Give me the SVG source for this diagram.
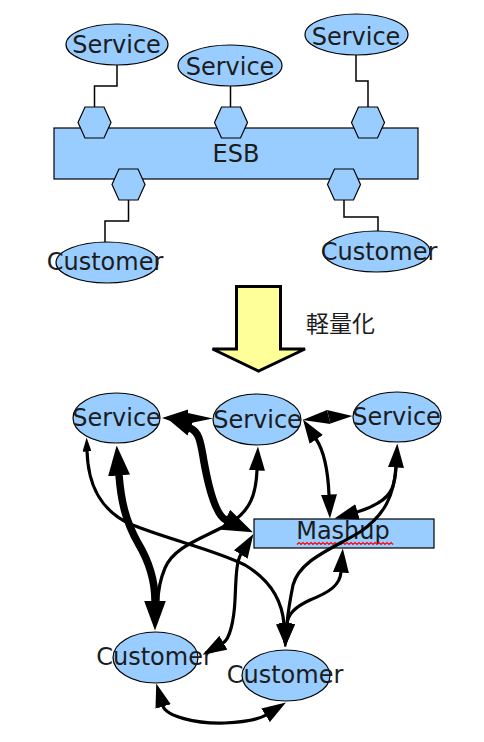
<svg xmlns="http://www.w3.org/2000/svg" width="484" height="742" viewBox="0 0 484 742">
<style>
.nd{fill:#99ccff;stroke:#000;stroke-width:1.2}
.t{font-family:"DejaVu Sans",sans-serif;font-size:24px;fill:#1c1c1c;text-anchor:middle}
.el{fill:none;stroke:#000;stroke-width:1.5}
.c{fill:none;stroke:#000;stroke-width:3.2}
.k{fill:none;stroke:#000;stroke-width:7.5}
.h{fill:#000}
</style>
<defs>
<marker id="hm" viewBox="0 0 24 16" markerWidth="24" markerHeight="16" refX="0.5" refY="8" orient="auto-start-reverse" markerUnits="userSpaceOnUse"><path d="M0,0 L24,8 L0,16 Z" fill="#000"/></marker>
<marker id="hb" viewBox="0 0 30 22" markerWidth="30" markerHeight="22" refX="0.5" refY="11" orient="auto-start-reverse" markerUnits="userSpaceOnUse"><path d="M0,0 L30,11 L0,22 Z" fill="#000"/></marker>
<marker id="hs" viewBox="0 0 14 9" markerWidth="14" markerHeight="9" refX="0.5" refY="4.5" orient="auto-start-reverse" markerUnits="userSpaceOnUse"><path d="M0,0 L14,4.5 L0,9 Z" fill="#000"/></marker>
</defs>

<!-- top ESB diagram -->
<g id="top-connectors">
<path class="el" d="M117,65 V86 H94.5 V107"/>
<path class="el" d="M230.5,86 V107"/>
<path class="el" d="M356,55 V81 H368 V107"/>
<path class="el" d="M128.5,200 V221 H105 V242"/>
<path class="el" d="M344,200 V217 H378 V231"/>
</g>
<g id="esb"><rect class="nd" x="54" y="128" width="364" height="51"/><text class="t" x="236" y="162">ESB</text></g>
<g id="hex1"><polygon class="nd" points="78,122.5 85,107 104,107 111,122.5 104,138 85,138"/></g>
<g id="hex2"><polygon class="nd" points="214.5,122.5 221.5,107 240.5,107 247.5,122.5 240.5,138 221.5,138"/></g>
<g id="hex3"><polygon class="nd" points="351.5,122.5 358.5,107 377.5,107 384.5,122.5 377.5,138 358.5,138"/></g>
<g id="hex4"><polygon class="nd" points="112,184.5 119,169 138,169 145,184.5 138,200 119,200"/></g>
<g id="hex5"><polygon class="nd" points="327.5,184.5 334.5,169 353.5,169 360.5,184.5 353.5,200 334.5,200"/></g>
<g id="t-service1"><ellipse class="nd" cx="117" cy="44.5" rx="51" ry="20.5"/><text class="t" x="116.5" y="53">Service</text></g>
<g id="t-service2"><ellipse class="nd" cx="230" cy="65.5" rx="52" ry="20.5"/><text class="t" x="230" y="74.5">Service</text></g>
<g id="t-service3"><ellipse class="nd" cx="356.5" cy="34.5" rx="51.5" ry="20.5"/><text class="t" x="356" y="44.5">Service</text></g>
<g id="t-customer1"><ellipse class="nd" cx="107" cy="262.5" rx="51" ry="20.5"/><text class="t" x="105" y="270">Customer</text></g>
<g id="t-customer2"><ellipse class="nd" cx="376.5" cy="251.5" rx="53.5" ry="20.5"/><text class="t" x="379" y="260">Customer</text></g>

<!-- transition arrow -->
<g id="transition">
<polygon points="236.5,286.5 280.5,286.5 280.5,349 305,349 258.5,371 212.5,349 236.5,349" fill="#ffff99" stroke="#000" stroke-width="3" stroke-linejoin="miter"/>
<text x="306" y="332" font-family="'Noto Sans CJK JP','Noto Sans CJK SC',sans-serif" font-size="23" fill="#1c1c1c">軽量化</text>
</g>

<!-- bottom mashup diagram nodes -->
<g id="b-serviceA"><ellipse class="nd" cx="116.5" cy="418" rx="43.5" ry="25"/><text class="t" x="116.5" y="426">Service</text></g>
<g id="b-serviceB"><ellipse class="nd" cx="257" cy="419.5" rx="44" ry="25.5"/><text class="t" x="257.5" y="427.5">Service</text></g>
<g id="b-serviceC"><ellipse class="nd" cx="397" cy="417" rx="44" ry="25"/><text class="t" x="396.5" y="424.5">Service</text></g>
<g id="b-mashup"><rect class="nd" x="254" y="519" width="180" height="29"/><text class="t" x="343" y="539">Mashup</text>
<path d="M297,544.5 l2,-2 l2,2 l2,-2 l2,2 l2,-2 l2,2 l2,-2 l2,2 l2,-2 l2,2 l2,-2 l2,2 l2,-2 l2,2 l2,-2 l2,2 l2,-2 l2,2 l2,-2 l2,2 l2,-2 l2,2 l2,-2 l2,2 l2,-2 l2,2 l2,-2 l2,2 l2,-2 l2,2 l2,-2 l2,2 l2,-2 l2,2 l2,-2 l2,2 l2,-2 l2,2 l2,-2 l2,2 l2,-2 l2,2 l2,-2 l2,2 l2,-2 l2,2 l2,-2 l2,2" fill="none" stroke="#ff0000" stroke-width="1.2"/></g>
<g id="b-customerA"><ellipse class="nd" cx="155.5" cy="657.5" rx="42.5" ry="25.5"/><text class="t" x="154.5" y="665">Customer</text></g>
<g id="b-customerB"><ellipse class="nd" cx="286" cy="675.5" rx="44" ry="25.5"/><text class="t" x="285" y="683">Customer</text></g>

<g id="connectors">
<polygon class="h" points="162,418 188,409.5 188,427"/>
<polygon class="h" points="188,413 213,418.5 188,423.5"/>
<polygon class="h" points="302.5,420 327,410 330.5,424"/>
<polygon class="h" points="327,410 352.5,416 330.5,423.5"/>
<path class="k" d="M190,428 C200,432 201,445 204,462 C208,484 215,515 226,520" marker-start="url(#hm)" marker-end="url(#hb)"/>
<path class="k" d="M119,475 C121,500 125,520 138,543 C150,563 155,582 155,601" marker-start="url(#hb)" marker-end="url(#hb)"/>
<path class="c" d="M87,451 C88,485 100,510 130,524 C170,540 215,550 245,565 C270,580 282,600 284,624" marker-start="url(#hs)" marker-end="url(#hm)"/>
<path class="c" d="M257,470 C256,495 250,510 232,522 C205,538 175,545 165,568 C160,580 158,590 158,602" marker-start="url(#hm)"/>
<path class="c" d="M241,554 C236,562 236,580 235,600 C234,620 230,639 223,643" marker-start="url(#hm)" marker-end="url(#hm)"/>
<path class="c" d="M316,439 C324,451 328,470 329,495" marker-start="url(#hm)" marker-end="url(#hm)"/>
<path class="c" d="M396,467 C395,485 392,495 378,503 C370,508 364,510 357,512" marker-start="url(#hm)" marker-end="url(#hm)"/>
<path class="c" d="M396,467 C394,495 385,515 360,532 C330,550 300,560 293,585 C290,600 288,612 287,624" marker-end="url(#hm)"/>
<path class="c" d="M341,572 C340,585 330,592 310,600 C295,607 288,614 287,624" marker-start="url(#hm)" marker-end="url(#hm)"/>
<path class="c" d="M163,706 C166,716 195,724 225,723 C245,722 258,720 266,715" marker-start="url(#hm)" marker-end="url(#hm)"/>
</g>
</svg>
